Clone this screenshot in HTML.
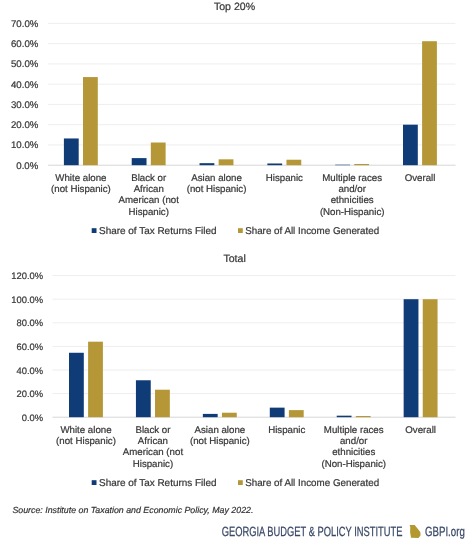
<!DOCTYPE html>
<html><head><meta charset="utf-8"><style>
html,body{margin:0;padding:0;background:#fff;}
svg{display:block;will-change:transform;text-rendering:geometricPrecision;font-family:"Liberation Sans",sans-serif;}
.ax{font-size:9.7px;fill:#383838;stroke:#383838;stroke-width:0.22px;}
.cat{font-size:9.7px;fill:#383838;stroke:#383838;stroke-width:0.22px;}
.leg{font-size:9.9px;fill:#383838;stroke:#383838;stroke-width:0.22px;}
.ttl{font-size:10.6px;fill:#383838;stroke:#383838;stroke-width:0.22px;}
.src{font-size:8.8px;fill:#303030;stroke:#303030;stroke-width:0.18px;font-style:italic;}
.logo{font-size:13.3px;fill:#3a4868;stroke:#3a4868;stroke-width:0.25px;}
</style></head><body>
<svg width="474" height="550" viewBox="0 0 474 550">
<rect width="474" height="550" fill="#fff"/>
<text x="234.5" y="10.3" text-anchor="middle" class="ttl">Top 20%</text>
<rect x="48" y="164.70" width="407.5" height="1" fill="#d6d6d6"/>
<text x="38.3" y="168.70" text-anchor="end" class="ax" style="font-size:9.65px">0.0%</text>
<rect x="48" y="144.44" width="407.5" height="1" fill="#eeeeee"/>
<text x="38.3" y="148.44" text-anchor="end" class="ax" style="font-size:9.65px">10.0%</text>
<rect x="48" y="124.18" width="407.5" height="1" fill="#eeeeee"/>
<text x="38.3" y="128.18" text-anchor="end" class="ax" style="font-size:9.65px">20.0%</text>
<rect x="48" y="103.92" width="407.5" height="1" fill="#eeeeee"/>
<text x="38.3" y="107.92" text-anchor="end" class="ax" style="font-size:9.65px">30.0%</text>
<rect x="48" y="83.66" width="407.5" height="1" fill="#eeeeee"/>
<text x="38.3" y="87.66" text-anchor="end" class="ax" style="font-size:9.65px">40.0%</text>
<rect x="48" y="63.40" width="407.5" height="1" fill="#eeeeee"/>
<text x="38.3" y="67.40" text-anchor="end" class="ax" style="font-size:9.65px">50.0%</text>
<rect x="48" y="43.14" width="407.5" height="1" fill="#eeeeee"/>
<text x="38.3" y="47.14" text-anchor="end" class="ax" style="font-size:9.65px">60.0%</text>
<rect x="48" y="22.88" width="407.5" height="1" fill="#eeeeee"/>
<text x="38.3" y="26.88" text-anchor="end" class="ax" style="font-size:9.65px">70.0%</text>
<rect x="63.90" y="138.46" width="14.8" height="26.74" fill="#0f3b77"/>
<rect x="83.00" y="77.07" width="14.8" height="88.13" fill="#b59738"/>
<rect x="131.72" y="158.11" width="14.8" height="7.09" fill="#0f3b77"/>
<rect x="150.82" y="142.51" width="14.8" height="22.69" fill="#b59738"/>
<rect x="199.54" y="163.17" width="14.8" height="2.03" fill="#0f3b77"/>
<rect x="218.64" y="159.32" width="14.8" height="5.88" fill="#b59738"/>
<rect x="267.36" y="163.48" width="14.8" height="1.72" fill="#0f3b77"/>
<rect x="286.46" y="159.73" width="14.8" height="5.47" fill="#b59738"/>
<rect x="335.18" y="164.69" width="14.8" height="0.51" fill="#0f3b77"/>
<rect x="354.28" y="163.98" width="14.8" height="1.22" fill="#b59738"/>
<rect x="403.00" y="124.68" width="14.8" height="40.52" fill="#0f3b77"/>
<rect x="422.10" y="41.21" width="14.8" height="123.99" fill="#b59738"/>
<text x="80.90" y="180.60" text-anchor="middle" class="cat">White alone</text>
<text x="80.90" y="191.90" text-anchor="middle" class="cat">(not Hispanic)</text>
<text x="148.72" y="180.60" text-anchor="middle" class="cat">Black or</text>
<text x="148.72" y="191.90" text-anchor="middle" class="cat">African</text>
<text x="148.72" y="203.20" text-anchor="middle" class="cat">American (not</text>
<text x="148.72" y="214.50" text-anchor="middle" class="cat">Hispanic)</text>
<text x="216.54" y="180.60" text-anchor="middle" class="cat">Asian alone</text>
<text x="216.54" y="191.90" text-anchor="middle" class="cat">(not Hispanic)</text>
<text x="284.36" y="180.60" text-anchor="middle" class="cat">Hispanic</text>
<text x="352.18" y="180.60" text-anchor="middle" class="cat">Multiple races</text>
<text x="352.18" y="191.90" text-anchor="middle" class="cat">and/or</text>
<text x="352.18" y="203.20" text-anchor="middle" class="cat">ethnicities</text>
<text x="352.18" y="214.50" text-anchor="middle" class="cat">(Non-Hispanic)</text>
<text x="420.00" y="180.60" text-anchor="middle" class="cat">Overall</text>
<rect x="91.7" y="228.20" width="4.8" height="4.8" fill="#0f3b77"/>
<text x="99" y="233.50" class="leg" textLength="117.6" lengthAdjust="spacingAndGlyphs">Share of Tax Returns Filed</text>
<rect x="238" y="228.20" width="4.8" height="4.8" fill="#b59738"/>
<text x="245.2" y="233.50" class="leg" textLength="134" lengthAdjust="spacingAndGlyphs">Share of All Income Generated</text>
<text x="234.6" y="261.9" text-anchor="middle" class="ttl">Total</text>
<rect x="52.5" y="416.70" width="403.0" height="1" fill="#d6d6d6"/>
<text x="43.1" y="420.70" text-anchor="end" class="ax" style="font-size:9.4px">0.0%</text>
<rect x="52.5" y="393.10" width="403.0" height="1" fill="#eeeeee"/>
<text x="43.1" y="397.10" text-anchor="end" class="ax" style="font-size:9.4px">20.0%</text>
<rect x="52.5" y="369.50" width="403.0" height="1" fill="#eeeeee"/>
<text x="43.1" y="373.50" text-anchor="end" class="ax" style="font-size:9.4px">40.0%</text>
<rect x="52.5" y="345.90" width="403.0" height="1" fill="#eeeeee"/>
<text x="43.1" y="349.90" text-anchor="end" class="ax" style="font-size:9.4px">60.0%</text>
<rect x="52.5" y="322.30" width="403.0" height="1" fill="#eeeeee"/>
<text x="43.1" y="326.30" text-anchor="end" class="ax" style="font-size:9.4px">80.0%</text>
<rect x="52.5" y="298.70" width="403.0" height="1" fill="#eeeeee"/>
<text x="43.1" y="302.70" text-anchor="end" class="ax" style="font-size:9.4px">100.0%</text>
<rect x="52.5" y="275.10" width="403.0" height="1" fill="#eeeeee"/>
<text x="43.1" y="279.10" text-anchor="end" class="ax" style="font-size:9.4px">120.0%</text>
<rect x="69.00" y="352.77" width="14.8" height="64.43" fill="#0f3b77"/>
<rect x="88.10" y="341.68" width="14.8" height="75.52" fill="#b59738"/>
<rect x="135.93" y="380.27" width="14.8" height="36.93" fill="#0f3b77"/>
<rect x="155.03" y="389.71" width="14.8" height="27.49" fill="#b59738"/>
<rect x="202.86" y="413.90" width="14.8" height="3.30" fill="#0f3b77"/>
<rect x="221.96" y="412.72" width="14.8" height="4.48" fill="#b59738"/>
<rect x="269.79" y="407.64" width="14.8" height="9.56" fill="#0f3b77"/>
<rect x="288.89" y="410.12" width="14.8" height="7.08" fill="#b59738"/>
<rect x="336.72" y="415.67" width="14.8" height="1.53" fill="#0f3b77"/>
<rect x="355.82" y="416.02" width="14.8" height="1.18" fill="#b59738"/>
<rect x="403.65" y="299.20" width="14.8" height="118.00" fill="#0f3b77"/>
<rect x="422.75" y="299.20" width="14.8" height="118.00" fill="#b59738"/>
<text x="86.00" y="432.80" text-anchor="middle" class="cat">White alone</text>
<text x="86.00" y="444.10" text-anchor="middle" class="cat">(not Hispanic)</text>
<text x="152.93" y="432.80" text-anchor="middle" class="cat">Black or</text>
<text x="152.93" y="444.10" text-anchor="middle" class="cat">African</text>
<text x="152.93" y="455.40" text-anchor="middle" class="cat">American (not</text>
<text x="152.93" y="466.70" text-anchor="middle" class="cat">Hispanic)</text>
<text x="219.86" y="432.80" text-anchor="middle" class="cat">Asian alone</text>
<text x="219.86" y="444.10" text-anchor="middle" class="cat">(not Hispanic)</text>
<text x="286.79" y="432.80" text-anchor="middle" class="cat">Hispanic</text>
<text x="353.72" y="432.80" text-anchor="middle" class="cat">Multiple races</text>
<text x="353.72" y="444.10" text-anchor="middle" class="cat">and/or</text>
<text x="353.72" y="455.40" text-anchor="middle" class="cat">ethnicities</text>
<text x="353.72" y="466.70" text-anchor="middle" class="cat">(Non-Hispanic)</text>
<text x="420.65" y="432.80" text-anchor="middle" class="cat">Overall</text>
<rect x="91.7" y="480.20" width="4.8" height="4.8" fill="#0f3b77"/>
<text x="99" y="485.50" class="leg" textLength="117.6" lengthAdjust="spacingAndGlyphs">Share of Tax Returns Filed</text>
<rect x="238" y="480.20" width="4.8" height="4.8" fill="#b59738"/>
<text x="245.2" y="485.50" class="leg" textLength="134" lengthAdjust="spacingAndGlyphs">Share of All Income Generated</text>
<text x="12.4" y="513.3" class="src" textLength="241" lengthAdjust="spacingAndGlyphs">Source: Institute on Taxation and Economic Policy, May 2022.</text>
<text x="221.7" y="536" class="logo" textLength="180.8" lengthAdjust="spacingAndGlyphs">GEORGIA BUDGET &amp; POLICY INSTITUTE</text>
<path d="M409.6 524.9 L414.7 524.9 L420.3 532.1 L420.6 535.3 L418.5 537.9 L411 537.7 L410.1 532.1 L410.3 527 Z" fill="#b3982f"/>
<text x="425" y="536" class="logo" textLength="39.8" lengthAdjust="spacingAndGlyphs">GBPI.org</text>
</svg>
</body></html>
